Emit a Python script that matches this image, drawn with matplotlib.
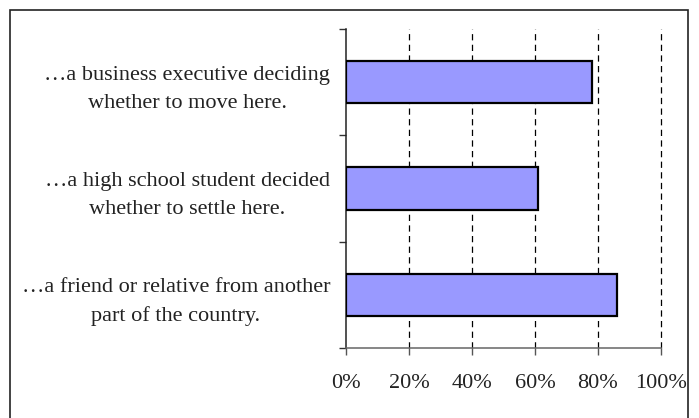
import matplotlib
matplotlib.use("Agg")
import matplotlib.pyplot as plt
from matplotlib.patches import Rectangle
from matplotlib.ticker import FuncFormatter

# survey answers, bottom-to-top order as drawn
labels = [
    "\u2026a friend or relative from another\npart of the country.",
    "\u2026a high school student decided\nwhether to settle here.",
    "\u2026a business executive deciding\nwhether to move here.",
]
shares = [86, 61, 78]
x_ticks = [0, 20, 40, 60, 80, 100]

plt.rcParams["font.family"] = ["Liberation Serif", "DejaVu Serif"]
text_color = "#222222"

fig = plt.figure(figsize=(6.99, 4.18), dpi=100)
ax = fig.add_axes([0.495, 0.1675, 0.4505, 0.7631])

ypos = list(range(len(labels)))
ax.barh(ypos, shares, height=0.4, color="#9999FF", edgecolor="black",
        linewidth=1.6, zorder=3)

for x in x_ticks[1:]:
    ax.axvline(x, color="black", linestyle=(0, (5, 3.5)), linewidth=0.9,
               zorder=1, clip_on=False)

ax.set_xlim(0, 100)
ax.set_ylim(-0.5, len(labels) - 0.5)
ax.set_xticks(x_ticks)
ax.xaxis.set_major_formatter(FuncFormatter(lambda v, _: f"{v:.0f}%"))

# category ticks sit between the bars, labels in the middle
ax.set_yticks([y - 0.5 for y in range(len(labels) + 1)])
ax.set_yticklabels([])
ax.set_yticks(ypos, minor=True)
ax.set_yticklabels(labels, minor=True)
ax.tick_params(axis="y", which="minor", length=0, pad=11.5,
               labelsize=16, labelcolor=text_color)
ax.tick_params(axis="y", which="major", length=5, width=1, color="#333333")
ax.tick_params(axis="x", length=5, width=1, color="#555555", pad=14,
               labelsize=16, labelcolor=text_color)
for t in ax.get_yticklabels(minor=True):
    t.set_multialignment("center")
    t.set_linespacing(1.65)

for side in ("top", "right"):
    ax.spines[side].set_visible(False)
ax.spines["left"].set_color("#222222")
ax.spines["left"].set_linewidth(1.1)
ax.spines["bottom"].set_color("#666666")
ax.spines["bottom"].set_linewidth(1.1)

# outer chart frame
fig.patches.append(Rectangle((10 / 699, -0.05), 678 / 699, 1.05 - 10 / 418,
                             transform=fig.transFigure, fill=False,
                             edgecolor="#222222", linewidth=1.2))

fig.savefig("out.png", dpi=100)
plt.close(fig)
